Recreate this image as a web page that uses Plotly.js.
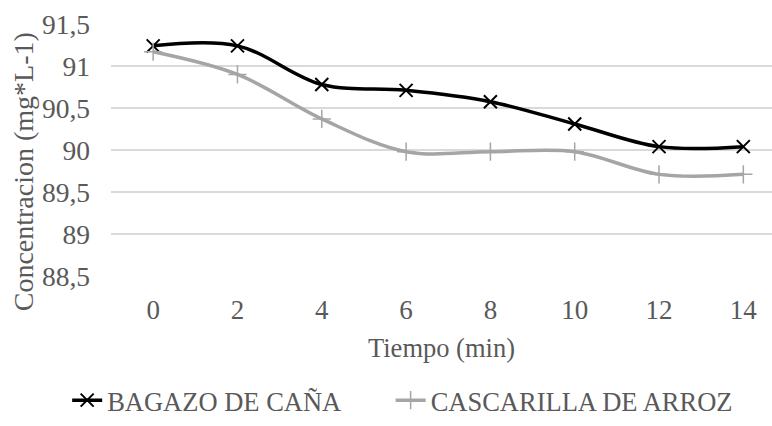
<!DOCTYPE html>
<html>
<head>
<meta charset="utf-8">
<script src="https://cdn.plot.ly/plotly-3.0.1.min.js"></script>
<style>
html,body{margin:0;padding:0;background:#fff;}
#chart{width:772px;height:426px;}
</style>
</head>
<body>
<div id="chart"></div>
<script>
const tiempo = [0, 2, 4, 6, 8, 10, 12, 14];
const bagazo = [91.24, 91.24, 90.78, 90.71, 90.575, 90.31, 90.04, 90.04];
const cascarilla = [91.17, 90.90, 90.37, 89.98, 89.98, 89.98, 89.71, 89.71];
const seriesNames = ["BAGAZO DE CAÑA", "CASCARILLA DE ARROZ"];
const xTitle = "Tiempo (min)";
const yTitle = "Concentracion (mg*L-1)";

const FAM = "Liberation Serif";
const mk = (s) => ({family: FAM, color: "#595959", size: s});

const traces = [
  {x: tiempo, y: bagazo, name: seriesNames[0], type: "scatter", mode: "lines+markers", legend: "legend",
   line: {color: "#000000", width: 3.5, shape: "spline", smoothing: 1},
   marker: {symbol: "x-thin-open", size: 13, line: {color: "#000000", width: 2}}},
  {x: tiempo, y: cascarilla, name: seriesNames[1], type: "scatter", mode: "lines+markers", legend: "legend2",
   line: {color: "#a5a5a5", width: 3.5, shape: "spline", smoothing: 1},
   marker: {symbol: "cross-thin-open", size: 13, line: {color: "#a5a5a5", width: 1.5}}}
];

const legendBase = {orientation: "h", xref: "container", yref: "container", y: 0.06,
                    xanchor: "left", yanchor: "middle", font: mk(26.5), bgcolor: "rgba(0,0,0,0)"};

const layout = {
  width: 772, height: 426,
  margin: {l: 111, r: 0, t: 24, b: 150},
  paper_bgcolor: "#ffffff", plot_bgcolor: "#ffffff",
  font: mk(26),
  separators: ",.",
  showlegend: true,
  xaxis: {range: [-1, 14.68], tickvals: tiempo, showgrid: false, zeroline: false, showline: false,
          ticks: "", ticklabelstandoff: 15, tickfont: mk(27),
          title: {text: xTitle, font: mk(26.5), standoff: 14}},
  yaxis: {range: [88.5, 91.5], dtick: 0.5, showgrid: true, gridcolor: "#d9d9d9", gridwidth: 1.5,
          zeroline: false, showline: false, ticks: "", ticklabelstandoff: 20, tickfont: mk(27.5)},
  annotations: [{text: yTitle, textangle: -90, xref: "paper", yref: "paper",
                 x: -0.133, y: 0.412, xanchor: "center", yanchor: "middle", showarrow: false,
                 font: mk(28)}],
  legend: Object.assign({}, legendBase, {x: 0.087}),
  legend2: Object.assign({}, legendBase, {x: 0.506})
};

Plotly.newPlot("chart", traces, layout, {staticPlot: true, displayModeBar: false});
</script>
</body>
</html>
